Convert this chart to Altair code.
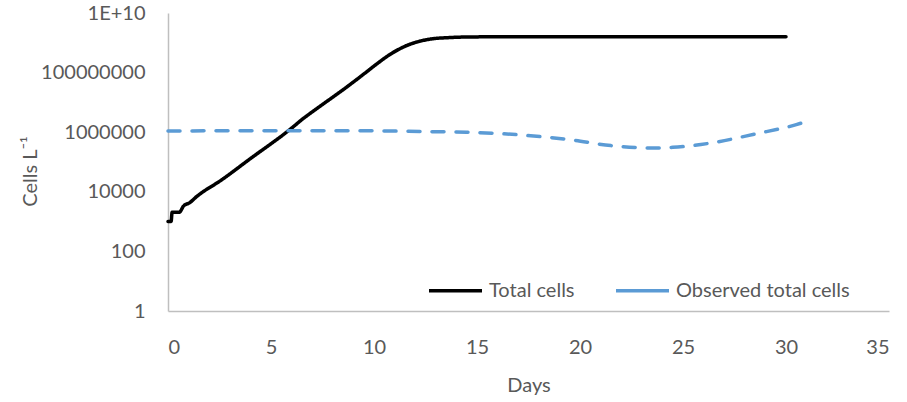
import altair as alt
import pandas as pd

# Total cells (model)
total_days = [0, 0.15, 0.2, 0.55, 0.75, 1.05, 1.4, 2.6, 4.0, 5.9, 6.6, 6.8, 8.8, 9.5, 10.0, 10.9, 11.5, 12.1, 12.8, 13.7, 15, 20, 25, 30]
total_vals = [1000, 1000, 2050, 2050, 3300, 4300, 7000, 25000, 1.3e5, 1.2e6, 3.0e6, 3.8e6, 3.8e7, 8.9e7, 1.66e8, 4.6e8, 7.6e8, 1.07e9, 1.35e9, 1.5e9, 1.58e9, 1.6e9, 1.6e9, 1.6e9]

# Observed total cells
obs_days = [0, 5, 8.8, 12.6, 14.5, 16.9, 17.6, 19.4, 21.5, 23.5, 24.5, 26.5, 28.5, 30.5, 30.9]
obs_vals = [1.1e6, 1.12e6, 1.12e6, 1.05e6, 1.0e6, 8.3e5, 7.6e5, 5.75e5, 3.55e5, 2.95e5, 3.1e5, 4.5e5, 8.7e5, 1.8e6, 2.2e6]

series_names = ["Total cells", "Observed total cells"]
series_colors = ["#000000", "#5B9BD5"]
line_styles = ["solid", "dashed"]
y_ticks = [1, 100, 1e4, 1e6, 1e8, 1e10]
x_ticks = [0, 5, 10, 15, 20, 25, 30, 35]

df = pd.concat([
    pd.DataFrame({"day": total_days, "cells": total_vals,
                  "series": series_names[0], "style": line_styles[0]}),
    pd.DataFrame({"day": obs_days, "cells": obs_vals,
                  "series": series_names[1], "style": line_styles[1]}),
])

FONT = "Lato"
GREY = "#595959"

x = alt.X("day:Q", title="Days",
          scale=alt.Scale(domain=[0, 35], nice=False, zero=False),
          axis=alt.Axis(values=x_ticks, grid=False, ticks=False, tickSize=0,
                        labelPadding=26, titleY=74, titleBaseline="middle"))
y = alt.Y("cells:Q", title="Cells L⁻¹",
          scale=alt.Scale(type="log", domain=[1, 1e10], nice=False),
          axis=alt.Axis(values=y_ticks, grid=False, ticks=False, tickSize=0,
                        labelPadding=23,
                        labelExpr="datum.value >= 1e10 ? '1E+10' : format(datum.value, 'd')",
                        titleX=-138, titleY=158, titleAngle=-90,
                        titleAlign="center", titleBaseline="middle"))
color = alt.Color("series:N", title=None,
                  scale=alt.Scale(domain=series_names, range=series_colors),
                  legend=alt.Legend(orient="none", legendX=259, legendY=249,
                                    direction="horizontal", symbolType="stroke",
                                    symbolSize=2809, symbolStrokeWidth=3.5,
                                    symbolDash=[1, 0],
                                    labelOffset=5, columnPadding=34, padding=0,
                                    labelLimit=0,
                                    labelFont=FONT, labelFontSize=20,
                                    labelColor=GREY))
dash = alt.StrokeDash("style:N", legend=None,
                      scale=alt.Scale(domain=line_styles, range=[[1, 0], [12, 12]]))

chart = alt.Chart(df).mark_line(
    strokeWidth=3.5, strokeCap="round", interpolate="monotone"
).encode(x=x, y=y, color=color, strokeDash=dash).properties(
    width=721, height=298,
    background="white",
    autosize=alt.AutoSizeParams(type="none"),
    padding={"left": 168, "top": 13, "right": 18, "bottom": 91},
).configure_view(stroke=None).configure_axis(
    domainColor="#BFBFBF", domainWidth=1.5,
    labelFont=FONT, labelFontSize=20, labelColor=GREY,
    titleFont=FONT, titleFontSize=20, titleFontWeight="normal", titleColor=GREY,
)

chart.save("out.html", embed_options={"renderer": "svg", "actions": False})
